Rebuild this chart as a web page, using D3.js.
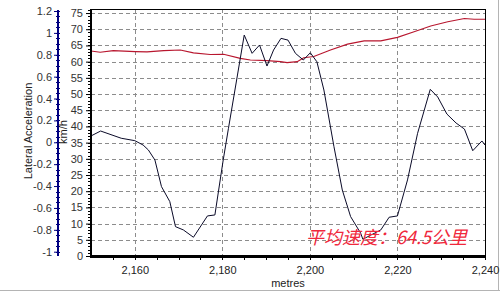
<!DOCTYPE html>
<html>
<head>
<meta charset="utf-8">
<script src="https://cdn.jsdelivr.net/npm/d3@7"></script>
<style>
  body { margin: 0; background: #fff; }
  svg { display: block; font-family: "Liberation Sans", Arial, sans-serif; }
</style>
</head>
<body>
<svg id="chart" width="500" height="300"></svg>
<script>
// lateral acceleration (black) - metres / g
var accDist = [2150.0, 2152.2, 2156.9, 2160.0, 2161.9, 2163.1, 2164.6, 2166.1, 2168.0, 2169.3,
  2171.1, 2173.4, 2176.6, 2178.3, 2180.2, 2181.4, 2185.0, 2186.8, 2188.5, 2190.2,
  2191.7, 2193.4, 2195.0, 2196.7, 2198.5, 2200.1, 2201.6, 2203.2, 2205.5, 2207.4,
  2209.3, 2211.6, 2212.1, 2216.2, 2218.1, 2220.0, 2222.3, 2224.6, 2227.5, 2229.2,
  2231.3, 2233.4, 2235.3, 2237.2, 2239.3, 2240.0];
var accValue = [0.058, 0.103, 0.037, 0.015, -0.025, -0.070, -0.162, -0.405, -0.542, -0.771,
  -0.801, -0.868, -0.673, -0.664, -0.162, 0.128, 0.980, 0.813, 0.889, 0.697,
  0.843, 0.950, 0.934, 0.813, 0.752, 0.818, 0.736, 0.478, -0.040, -0.436,
  -0.679, -0.831, -0.886, -0.801, -0.685, -0.673, -0.344, 0.082, 0.484, 0.414,
  0.258, 0.176, 0.121, -0.077, 0.012, -0.025];

// speed (red) - metres / km/h
var speedDist = [2150.0, 2152.1, 2155.1, 2160.1, 2162.8, 2166.6, 2170.4, 2173.4, 2177.2, 2180.3,
  2184.1, 2186.4, 2190.2, 2193.3, 2194.8, 2197.1, 2198.6, 2200.9, 2204.7, 2208.6,
  2212.4, 2216.2, 2220.0, 2223.8, 2227.6, 2231.5, 2235.3, 2237.5, 2240.0];
var speedValue = [63.3, 62.9, 63.4, 63.1, 63.0, 63.4, 63.6, 62.7, 62.2, 62.3,
  61.0, 60.5, 60.3, 60.0, 59.7, 60.0, 61.2, 61.6, 63.6, 65.4,
  66.4, 66.4, 67.5, 69.2, 71.0, 72.3, 73.3, 73.1, 73.1];

var xTicks = [2160, 2180, 2200, 2220, 2240];
var speedTicks = d3.range(0, 80, 5);
var accTicks = [-1, -0.8, -0.6, -0.4, -0.2, 0, 0.2, 0.4, 0.6, 0.8, 1, 1.2];
var note = "平均速度：64.5公里";

var svg = d3.select("#chart");
var plotL = 91, plotR = 485, plotT = 9, plotB = 256;

var x = d3.scaleLinear().domain([2150, 2240]).range([plotL, plotR]);
var ySpeed = d3.scaleLinear().domain([0, 76.25]).range([plotB, plotT]);
var yAcc = d3.scaleLinear().domain([-1, 1.2]).range([251.7, 11]);

// outer frame (grey)
svg.append("line").attr("x1", 0).attr("x2", 500).attr("y1", 290.5).attr("y2", 290.5)
  .attr("stroke", "#b4b4b4");
svg.append("line").attr("x1", 498.5).attr("x2", 498.5).attr("y1", 0).attr("y2", 291)
  .attr("stroke", "#b4b4b4");

// grid
var grid = svg.append("g").attr("stroke", "#8c8c8c").attr("stroke-dasharray", "4,3");
grid.selectAll(".h").data(speedTicks.slice(1)).enter().append("line")
  .attr("x1", plotL).attr("x2", plotR)
  .attr("y1", function (d) { return Math.round(ySpeed(d)) + 0.5; })
  .attr("y2", function (d) { return Math.round(ySpeed(d)) + 0.5; });
grid.selectAll(".v").data(xTicks.slice(0, 4)).enter().append("line")
  .attr("y1", plotT).attr("y2", plotB)
  .attr("x1", function (d) { return Math.round(x(d)) + 0.5; })
  .attr("x2", function (d) { return Math.round(x(d)) + 0.5; });

// series
var accLine = d3.line()
  .x(function (d, i) { return x(accDist[i]); })
  .y(function (d) { return yAcc(d); });
var speedLine = d3.line()
  .x(function (d, i) { return x(speedDist[i]); })
  .y(function (d) { return ySpeed(d); });

svg.append("path").datum(speedValue).attr("d", speedLine)
  .attr("fill", "none").attr("stroke", "#b8162e").attr("stroke-width", 1.1);
svg.append("path").datum(accValue).attr("d", accLine)
  .attr("fill", "none").attr("stroke", "#0a0a28").attr("stroke-width", 1);

// plot border top/right
svg.append("line").attr("x1", plotL).attr("x2", plotR + 1).attr("y1", plotT + 0.5).attr("y2", plotT + 0.5)
  .attr("stroke", "#000");
svg.append("line").attr("x1", plotR + 0.5).attr("x2", plotR + 0.5).attr("y1", plotT).attr("y2", plotB)
  .attr("stroke", "#000");

// bottom axis
var xAxis = svg.append("g").attr("transform", "translate(0," + plotB + ")")
  .call(d3.axisBottom(x).tickValues(xTicks).tickSize(0).tickPadding(10)
    .tickFormat(d3.format(",")));
xAxis.select(".domain").remove();
xAxis.selectAll("text").attr("font-size", 11).attr("fill", "#222").attr("font-family", null);
svg.append("g").selectAll("line").data(d3.range(2155, 2241, 5)).enter().append("line")
  .attr("x1", function (d) { return Math.round(x(d)) + 0.5; })
  .attr("x2", function (d) { return Math.round(x(d)) + 0.5; })
  .attr("y1", plotB).attr("y2", plotB + 4).attr("stroke", "#000");
svg.append("line").attr("x1", plotL - 1).attr("x2", plotR + 1).attr("y1", plotB + 0.5).attr("y2", plotB + 0.5)
  .attr("stroke", "#000").attr("stroke-width", 3);

// speed axis
var sAxis = svg.append("g").attr("transform", "translate(" + (plotL - 1) + ",0)")
  .call(d3.axisLeft(ySpeed).tickValues(speedTicks).tickSize(4).tickPadding(3));
sAxis.select(".domain").remove();
sAxis.selectAll("text").attr("font-size", 11).attr("fill", "#333").attr("font-family", null);
svg.append("g").selectAll("line").data(d3.range(0, 77, 1)).enter().append("line")
  .attr("x1", plotL - 3).attr("x2", plotL)
  .attr("y1", function (d) { return Math.round(ySpeed(d)) + 0.5; })
  .attr("y2", function (d) { return Math.round(ySpeed(d)) + 0.5; })
  .attr("stroke", "#000");
svg.append("line").attr("x1", plotL).attr("x2", plotL).attr("y1", plotT).attr("y2", plotB + 2)
  .attr("stroke", "#000").attr("stroke-width", 2);

// acceleration axis
var aX = 58;
var aAxis = svg.append("g").attr("transform", "translate(" + aX + ",0)")
  .call(d3.axisLeft(yAcc).tickValues(accTicks).tickSize(4).tickPadding(2)
    .tickFormat(function (d) { return String(+d.toFixed(1)); }));
aAxis.select(".domain").remove();
aAxis.selectAll("line").attr("stroke", "#000080");
aAxis.selectAll("text").attr("font-size", 11).attr("fill", "#333").attr("font-family", null);
svg.append("g").selectAll("line").data(d3.range(-1, 1.21, 0.05)).enter().append("line")
  .attr("x1", aX - 2).attr("x2", aX + 2)
  .attr("y1", function (d) { return Math.round(yAcc(d)) + 0.5; })
  .attr("y2", function (d) { return Math.round(yAcc(d)) + 0.5; })
  .attr("stroke", "#000080");
svg.append("line").attr("x1", aX).attr("x2", aX).attr("y1", 10).attr("y2", 256)
  .attr("stroke", "#000080").attr("stroke-width", 2);

// axis titles
svg.append("text").attr("transform", "translate(32,131) rotate(-90)")
  .attr("text-anchor", "middle").attr("font-size", 11).attr("fill", "#222")
  .text("Lateral Acceleration");
svg.append("text").attr("transform", "translate(67,132) rotate(-90)")
  .attr("text-anchor", "middle").attr("font-size", 11).attr("fill", "#222")
  .text("km/h");
svg.append("text").attr("x", (plotL + plotR) / 2).attr("y", 287)
  .attr("text-anchor", "middle").attr("font-size", 11).attr("fill", "#222")
  .text("metres");

// annotation
svg.append("text").attr("x", 306).attr("y", 244)
  .attr("font-family", "'Noto Sans CJK SC', sans-serif").attr("font-style", "italic")
  .attr("font-size", 18).attr("fill", "#f0283c")
  .text(note);
</script>
</body>
</html>
